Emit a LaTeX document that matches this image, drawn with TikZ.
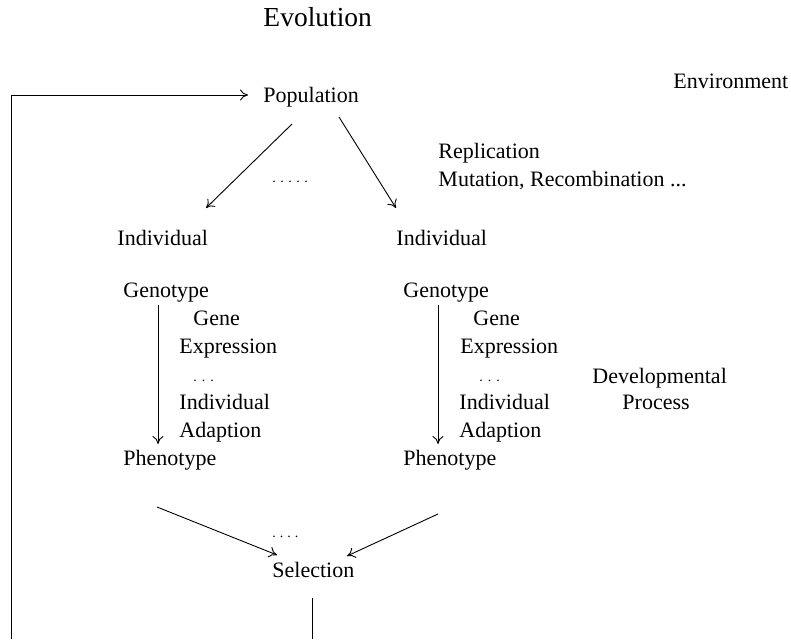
\documentclass[tikz,border=0pt]{standalone}
\usepackage{fontspec}
\setmainfont{Liberation Serif}
\usetikzlibrary{arrows.meta}
\tikzset{
  txt/.style={anchor=base west, inner sep=0pt, font=\fontsize{22}{26}\selectfont},
  dotrow/.style={anchor=base west, inner sep=0pt, font=\fontsize{14}{16}\selectfont},
  flow/.style={-{To[length=8pt,width=11pt]}},
}
\begin{document}
\begin{tikzpicture}[x=1pt, y=-1pt, line width=0.9pt]
            \useasboundingbox (0,0) rectangle (791,639);

            \node[txt, font=\fontsize{27.5}{32}\selectfont] (evo) at (263,27) {Evolution};
            \node[txt] (env) at (673,89) {Environment};
            \node[txt] (pop) at (263,103) {Population};
            \node[txt] (repl) at (438,159) {Replication};
            \node[txt] (mut) at (438,186) {Mutation, Recombination ...};
            \node[dotrow] (popdots) at (272,182) {.\hspace{4.5pt}.\hspace{4.5pt}.\hspace{4.5pt}.\hspace{4.5pt}.};

            % left individual
            \node[txt] (indl) at (117,245) {Individual};
            \node[txt] (genl) at (123,297) {Genotype};
            \node[txt] (genel) at (193,325) {Gene};
            \node[txt] (exprl) at (179,353) {Expression};
            \node[dotrow] (dotsl) at (193,381) {.\hspace{5pt}.\hspace{5pt}.};
            \node[txt] (adindl) at (179,409) {Individual};
            \node[txt] (adapl) at (179,437) {Adaption};
            \node[txt] (phenl) at (123,465) {Phenotype};

            % right individual
            \node[txt] (indr) at (396,245) {Individual};
            \node[txt] (genr) at (403,297) {Genotype};
            \node[txt] (gener) at (473,325) {Gene};
            \node[txt] (exprr) at (460,353) {Expression};
            \node[dotrow] (dotsr) at (479,381) {.\hspace{5pt}.\hspace{5pt}.};
            \node[txt] (adindr) at (459,409) {Individual};
            \node[txt] (adapr) at (459,437) {Adaption};
            \node[txt] (phenr) at (403,465) {Phenotype};

            \node[txt] (dev) at (592,383) {Developmental};
            \node[txt] (proc) at (622,409) {Process};

            \node[dotrow] (seldots) at (272,537) {.\hspace{4pt}.\hspace{4pt}.\hspace{4pt}.};
            \node[txt] (sel) at (272,577) {Selection};

            % arrow ends
            \coordinate (loopbot) at (11,639);
            \coordinate (popin) at (248,95);
            \coordinate (popl) at (292,124);
            \coordinate (popr) at (339,117);
            \coordinate (indlin) at (206,208);
            \coordinate (indrin) at (396,208);
            \coordinate (genlout) at (158,305);
            \coordinate (phenlin) at (158,444);
            \coordinate (genrout) at (438,305);
            \coordinate (phenrin) at (438,444);
            \coordinate (phenlout) at (157,507);
            \coordinate (phenrout) at (438,514);
            \coordinate (selinl) at (277,555);
            \coordinate (selinr) at (347,556);
            \coordinate (selout) at (312,598);
            \coordinate (selbot) at (312,639);

            \draw[flow] (loopbot) |- (popin);
            \draw[flow] (popl) -- (indlin);
            \draw[flow] (popr) -- (indrin);
            \draw[flow] (genlout) -- (phenlin);
            \draw[flow] (genrout) -- (phenrin);
            \draw[flow] (phenlout) -- (selinl);
            \draw[flow] (phenrout) -- (selinr);
            \draw (selout) -- (selbot);
        \end{tikzpicture}
\end{document}
